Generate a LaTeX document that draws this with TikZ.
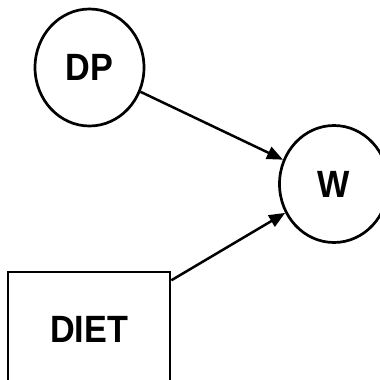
\documentclass[tikz,border=0pt]{standalone}
\usepackage{fontspec}
\newfontfamily\labfont[FakeStretch=0.9]{Liberation Sans Bold}
\usetikzlibrary{shapes.geometric,arrows.meta}
\begin{document}
\begin{tikzpicture}[x=1pt,y=1pt,
  oval/.style={ellipse,draw,line width=2.7pt,minimum width=109pt,minimum height=117pt,inner sep=0pt,font=\labfont\fontsize{38}{40}\selectfont},
  sq/.style={rectangle,draw,line width=2.7pt,minimum width=162pt,minimum height=114pt,inner sep=0pt,font=\labfont\fontsize{38}{40}\selectfont},
  arr/.style={line width=2.5pt,-{Triangle[length=16pt,width=13pt]}}]
\useasboundingbox (0,0) rectangle (380,-380);
\clip (0,0) rectangle (380,-380);
\node[oval] (dp) at (89.5,-67.5) {DP};
\node[oval] (w) at (334,-184) {W};
\node[sq] (diet) at (89,-329) {DIET};
\draw[arr] (dp) -- (w);
\draw[arr] (diet) -- (w);
\end{tikzpicture}
\end{document}
